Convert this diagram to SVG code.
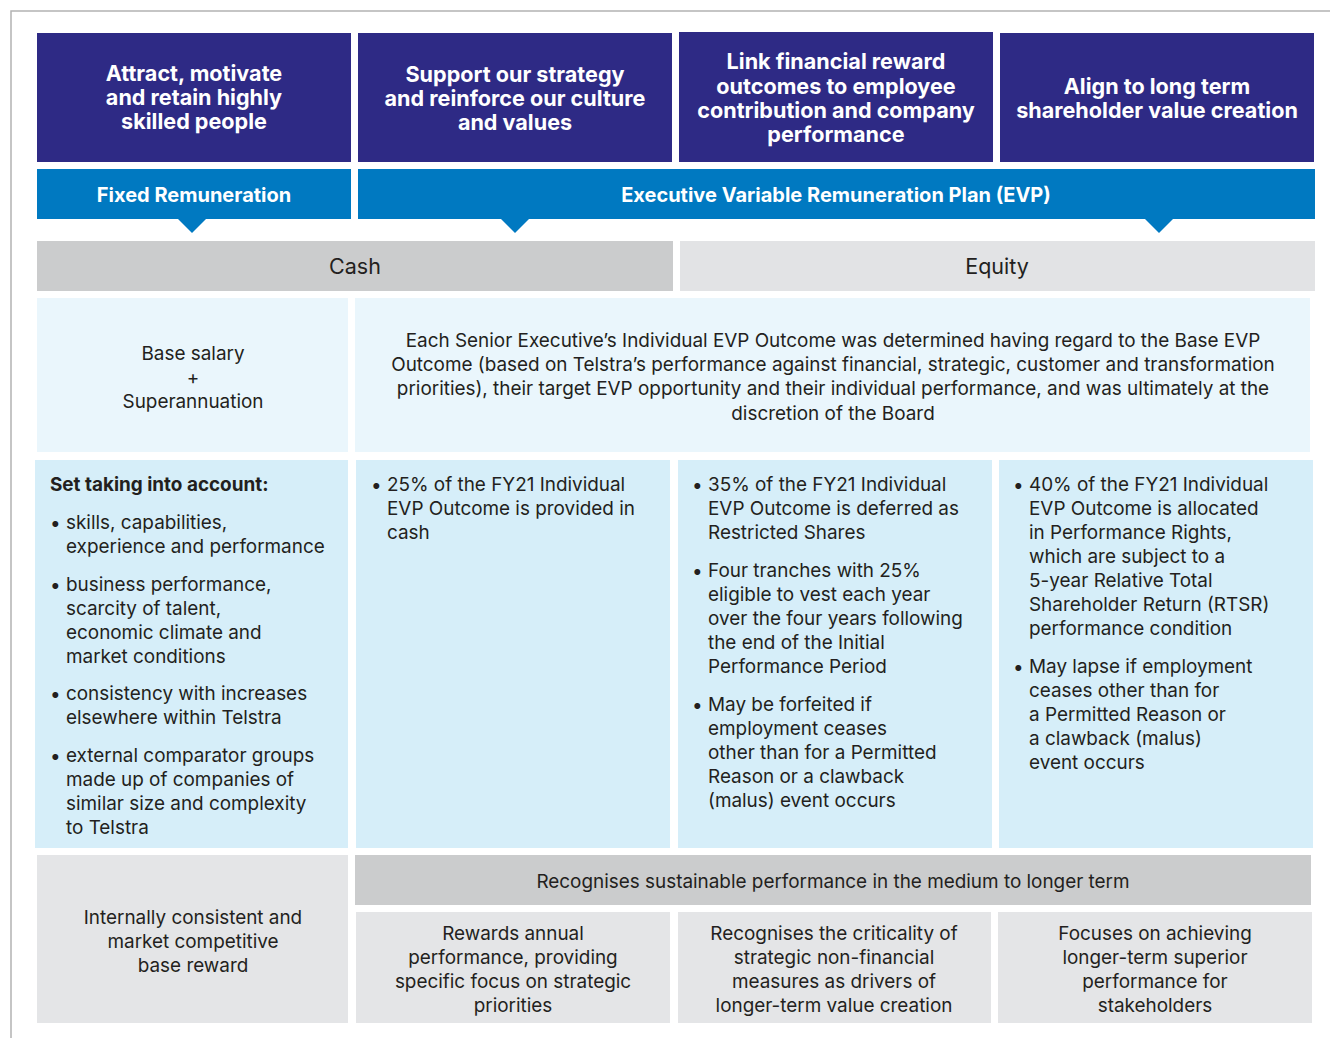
<svg xmlns="http://www.w3.org/2000/svg" width="1330" height="1038" viewBox="0 0 1330 1038">
<style>
.hd{fill:#2e2a85}
.bar{fill:#0079c1}
.t{font-family:Inter,"Liberation Sans",sans-serif;font-size:18.9px;fill:#231f20}
.c{text-anchor:middle}
.w{font-family:Inter,"Liberation Sans",sans-serif;font-size:21.6px;font-weight:700;fill:#fff;text-anchor:middle}
.wb{font-family:Inter,"Liberation Sans",sans-serif;font-size:20px;font-weight:700;fill:#fff;text-anchor:middle}
.big{font-family:Inter,"Liberation Sans",sans-serif;font-size:21.5px;fill:#231f20;text-anchor:middle}
.b{font-weight:700}
</style>
<rect width="1330" height="1038" fill="#fff"/>
<path d="M11 1038V11H1330" fill="none" stroke="#b3b3b3" stroke-width="1.5"/>

<g id="goal1"><rect class="hd" x="37" y="33" width="314" height="129"/>
<text class="w" x="194" y="81">Attract, motivate</text><text class="w" x="194" y="105">and retain highly</text><text class="w" x="194" y="129">skilled people</text></g>
<g id="goal2"><rect class="hd" x="358" y="33" width="314" height="129"/>
<text class="w" x="515" y="82">Support our strategy</text><text class="w" x="515" y="106">and reinforce our culture</text><text class="w" x="515" y="130">and values</text></g>
<g id="goal3"><rect class="hd" x="679" y="32" width="314" height="130"/>
<text class="w" x="836" y="69">Link financial reward</text><text class="w" x="836" y="94">outcomes to employee</text><text class="w" x="836" y="118">contribution and company</text><text class="w" x="836" y="142">performance</text></g>
<g id="goal4"><rect class="hd" x="1000" y="33" width="314" height="129"/>
<text class="w" x="1157" y="94">Align to long term</text><text class="w" x="1157" y="118">shareholder value creation</text></g>

<g id="fixed"><rect class="bar" x="37" y="169" width="314" height="50"/><path class="bar" d="M177 218H207L192 233Z"/>
<text class="wb" x="194" y="202">Fixed Remuneration</text></g>
<g id="evp"><rect class="bar" x="358" y="169" width="957" height="50"/><path class="bar" d="M500 218H530L515 233Z"/><path class="bar" d="M1144 218H1174L1159 233Z"/>
<text class="wb" x="836" y="202">Executive Variable Remuneration Plan (EVP)</text></g>

<g id="cash"><rect x="37" y="241" width="636" height="50" fill="#cbcccd"/><text class="big" x="355" y="274">Cash</text></g>
<g id="equity"><rect x="680" y="241" width="635" height="50" fill="#e2e3e5"/><text class="big" x="997" y="274">Equity</text></g>

<g id="base"><rect x="37" y="298" width="311" height="154" fill="#eaf6fc"/>
<text class="t c" x="193" y="360">Base salary</text><text class="t c" x="193" y="384">+</text><text class="t c" x="193" y="408">Superannuation</text></g>
<g id="evpdesc"><rect x="355" y="298" width="955" height="154" fill="#eaf6fc"/>
<text class="t c" x="833" y="347">Each Senior Executive’s Individual EVP Outcome was determined having regard to the Base EVP</text>
<text class="t c" x="833" y="371">Outcome (based on Telstra’s performance against financial, strategic, customer and transformation</text>
<text class="t c" x="833" y="395">priorities), their target EVP opportunity and their individual performance, and was ultimately at the</text>
<text class="t c" x="833" y="420">discretion of the Board</text></g>

<g id="fixeddetail"><rect x="35" y="460" width="313" height="388" fill="#d6eef9"/>
<text class="t b" x="50" y="491">Set taking into account:</text>
<text class="t" x="50" y="529">•</text><text class="t" x="66" y="529">skills, capabilities,</text><text class="t" x="66" y="553">experience and performance</text>
<text class="t" x="50" y="591">•</text><text class="t" x="66" y="591">business performance,</text><text class="t" x="66" y="615">scarcity of talent,</text><text class="t" x="66" y="639">economic climate and</text><text class="t" x="66" y="663">market conditions</text>
<text class="t" x="50" y="700">•</text><text class="t" x="66" y="700">consistency with increases</text><text class="t" x="66" y="724">elsewhere within Telstra</text>
<text class="t" x="50" y="762">•</text><text class="t" x="66" y="762">external comparator groups</text><text class="t" x="66" y="786">made up of companies of</text><text class="t" x="66" y="810">similar size and complexity</text><text class="t" x="66" y="834">to Telstra</text></g>

<g id="cashdetail"><rect x="356" y="460" width="314" height="388" fill="#d6eef9"/>
<text class="t" x="371" y="491">•</text><text class="t" x="387" y="491">25% of the FY21 Individual</text><text class="t" x="387" y="515">EVP Outcome is provided in</text><text class="t" x="387" y="539">cash</text></g>

<g id="sharesdetail"><rect x="678" y="460" width="314" height="388" fill="#d6eef9"/>
<text class="t" x="692" y="491">•</text><text class="t" x="708" y="491">35% of the FY21 Individual</text><text class="t" x="708" y="515">EVP Outcome is deferred as</text><text class="t" x="708" y="539">Restricted Shares</text>
<text class="t" x="692" y="577">•</text><text class="t" x="708" y="577">Four tranches with 25%</text><text class="t" x="708" y="601">eligible to vest each year</text><text class="t" x="708" y="625">over the four years following</text><text class="t" x="708" y="649">the end of the Initial</text><text class="t" x="708" y="673">Performance Period</text>
<text class="t" x="692" y="711">•</text><text class="t" x="708" y="711">May be forfeited if</text><text class="t" x="708" y="735">employment ceases</text><text class="t" x="708" y="759">other than for a Permitted</text><text class="t" x="708" y="783">Reason or a clawback</text><text class="t" x="708" y="807">(malus) event occurs</text></g>

<g id="rightsdetail"><rect x="999" y="460" width="314" height="388" fill="#d6eef9"/>
<text class="t" x="1013" y="491">•</text><text class="t" x="1029" y="491">40% of the FY21 Individual</text><text class="t" x="1029" y="515">EVP Outcome is allocated</text><text class="t" x="1029" y="539">in Performance Rights,</text><text class="t" x="1029" y="563">which are subject to a</text><text class="t" x="1029" y="587">5-year Relative Total</text><text class="t" x="1029" y="611">Shareholder Return (RTSR)</text><text class="t" x="1029" y="635">performance condition</text>
<text class="t" x="1013" y="673">•</text><text class="t" x="1029" y="673">May lapse if employment</text><text class="t" x="1029" y="697">ceases other than for</text><text class="t" x="1029" y="721">a Permitted Reason or</text><text class="t" x="1029" y="745">a clawback (malus)</text><text class="t" x="1029" y="769">event occurs</text></g>

<g id="fixedpurpose"><rect x="37" y="855" width="311" height="168" fill="#e4e5e7"/>
<text class="t c" x="193" y="924">Internally consistent and</text><text class="t c" x="193" y="948">market competitive</text><text class="t c" x="193" y="972">base reward</text></g>
<g id="sustain"><rect x="355" y="855" width="956" height="50" fill="#cbcccd"/>
<text class="t c" x="833" y="888">Recognises sustainable performance in the medium to longer term</text></g>
<g id="purpose1"><rect x="356" y="912" width="314" height="111" fill="#e4e5e7"/>
<text class="t c" x="513" y="940">Rewards annual</text><text class="t c" x="513" y="964">performance, providing</text><text class="t c" x="513" y="988">specific focus on strategic</text><text class="t c" x="513" y="1012">priorities</text></g>
<g id="purpose2"><rect x="678" y="912" width="313" height="111" fill="#e4e5e7"/>
<text class="t c" x="834" y="940">Recognises the criticality of</text><text class="t c" x="834" y="964">strategic non-financial</text><text class="t c" x="834" y="988">measures as drivers of</text><text class="t c" x="834" y="1012">longer-term value creation</text></g>
<g id="purpose3"><rect x="998" y="912" width="314" height="111" fill="#e4e5e7"/>
<text class="t c" x="1155" y="940">Focuses on achieving</text><text class="t c" x="1155" y="964">longer-term superior</text><text class="t c" x="1155" y="988">performance for</text><text class="t c" x="1155" y="1012">stakeholders</text></g>
<g id="connectors"></g>
</svg>
